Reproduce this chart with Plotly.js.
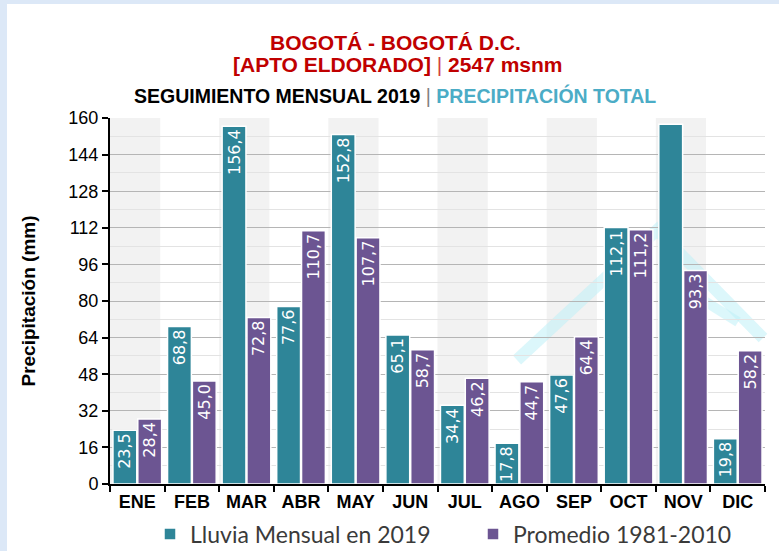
<!DOCTYPE html>
<html>
<head>
<meta charset="utf-8">
<script src="https://cdn.plot.ly/plotly-3.0.1.min.js"></script>
<style>
html,body{margin:0;padding:0;background:#ffffff;}
#chart{width:779px;height:551px;}
</style>
</head>
<body>
<div id="chart"></div>
<script>
// ---- data ----
const months = ['ENE','FEB','MAR','ABR','MAY','JUN','JUL','AGO','SEP','OCT','NOV','DIC'];
const lluvia2019 = [23.5, 68.8, 156.4, 77.6, 152.8, 65.1, 34.4, 17.8, 47.6, 112.1, 157.3, 19.8];
const promedio = [28.4, 45.0, 72.8, 110.7, 107.7, 58.7, 46.2, 44.7, 64.4, 111.2, 93.3, 58.2];
const lluviaShowLabel = [true,true,true,true,true,true,true,true,true,true,false,true];
const yTicks = [0,16,32,48,64,80,96,112,128,144,160];

const fmt = v => v.toFixed(1).replace('.', ',');
const lluviaText = lluvia2019.map((v,i) => lluviaShowLabel[i] ? fmt(v) : '');
const promText = promedio.map(v => fmt(v));

// plot area in pixels (for decorative shapes)
const W = 779, H = 551;
const L = 110, R = 765, T = 118, B = 484;
const px = x => (x - L) / (R - L);
const py = y => (B - y) / (B - T);
const cx = x => x / W;
const cy = y => (H - y) / H;

const sans = 'Liberation Sans, Arial, sans-serif';

const traces = [
  {
    type: 'bar', name: 'Lluvia Mensual en 2019', x: months, y: lluvia2019, legend: 'legend',
    text: lluviaText, textposition: 'inside', insidetextanchor: 'end', textangle: -90,
    constraintext: 'none',
    textfont: {family: 'DejaVu Sans, sans-serif', size: 16, color: '#ffffff'},
    marker: {color: '#2e8598', line: {color: '#ffffff', width: 1.5}},
    hoverinfo: 'x+y'
  },
  {
    type: 'bar', name: 'Promedio 1981-2010', x: months, y: promedio, legend: 'legend2',
    text: promText, textposition: 'inside', insidetextanchor: 'end', textangle: -90,
    constraintext: 'none',
    textfont: {family: 'DejaVu Sans, sans-serif', size: 16, color: '#ffffff'},
    marker: {color: '#6c5592', line: {color: '#ffffff', width: 1.5}},
    hoverinfo: 'x+y'
  }
];

const shapes = [];
// alternating light grey column bands
months.forEach((m, i) => {
  if (i % 2 === 0) {
    shapes.push({type: 'rect', xref: 'x', yref: 'paper', x0: i - 0.5, x1: i + 0.42, y0: 0, y1: 1,
      fillcolor: '#f2f2f2', line: {width: 0}, layer: 'below'});
  }
});
// faint watermark logo strokes
const wmColor = 'rgba(185,240,248,0.5)';
const wm = 'M' + px(517) + ',' + py(360) + ' L' + px(657) + ',' + py(230) + ' L' + px(763) + ',' + py(338);
shapes.push({type: 'path', xref: 'paper', yref: 'paper', path: wm,
  line: {color: wmColor, width: 12}, layer: 'below'});
const wm2 = 'M' + px(690) + ',' + py(292) + ' L' + px(738) + ',' + py(322);
shapes.push({type: 'path', xref: 'paper', yref: 'paper', path: wm2,
  line: {color: wmColor, width: 10}, layer: 'below'});
// light blue frame strips (left and top)
shapes.push({type: 'rect', xref: 'paper', yref: 'paper', x0: px(0), x1: px(7), y0: py(551), y1: py(0),
  fillcolor: '#dce8f7', line: {width: 0}, layer: 'above'});
shapes.push({type: 'rect', xref: 'paper', yref: 'paper', x0: px(0), x1: px(779), y0: py(4), y1: py(0),
  fillcolor: '#dce8f7', line: {width: 0}, layer: 'above'});

const annotations = [
  {xref: 'paper', yref: 'paper', x: px(395), y: py(42), xanchor: 'center', yanchor: 'middle', showarrow: false,
   text: '<b>BOGOTÁ - BOGOTÁ D.C.</b>', font: {family: sans, size: 21, color: '#c00000'}},
  {xref: 'paper', yref: 'paper', x: px(398), y: py(64), xanchor: 'center', yanchor: 'middle', showarrow: false,
   text: '<b>[APTO ELDORADO]</b> <span style="color:#d04040">|</span> <b>2547 msnm</b>', font: {family: sans, size: 21, color: '#c00000'}},
  {xref: 'paper', yref: 'paper', x: px(395), y: py(95), xanchor: 'center', yanchor: 'middle', showarrow: false,
   text: '<b>SEGUIMIENTO MENSUAL 2019</b> <span style="color:#7f7f7f">|</span> <b><span style="color:#4bacc6">PRECIPITACIÓN TOTAL</span></b>',
   font: {family: sans, size: 19.5, color: '#000000'}}
];

const legendFont = {family: 'Lato, DejaVu Sans, sans-serif', size: 23, color: '#3a3a3a'};
const layout = {
  width: W, height: H,
  margin: {l: L, r: W - R, t: T, b: H - B, pad: 0, autoexpand: false},
  paper_bgcolor: '#ffffff', plot_bgcolor: '#ffffff',
  separators: ',.',
  barmode: 'group', bargap: 0.09, bargroupgap: 0.04,
  uniformtext: {mode: 'show', minsize: 16},
  showlegend: true,
  legend: {orientation: 'h', xref: 'container', yref: 'container', x: cx(150), xanchor: 'left', y: cy(534), yanchor: 'middle',
    font: legendFont, itemwidth: 30, bgcolor: 'rgba(0,0,0,0)'},
  legend2: {orientation: 'h', xref: 'container', yref: 'container', x: cx(473), xanchor: 'left', y: cy(534), yanchor: 'middle',
    font: legendFont, itemwidth: 30, bgcolor: 'rgba(0,0,0,0)'},
  xaxis: {type: 'category', tickson: 'boundaries', ticks: 'outside', ticklen: 6, tickwidth: 1.5, tickcolor: '#000',
    showline: true, linecolor: '#000', linewidth: 2, showgrid: false, tickangle: 0, automargin: false,
    tickfont: {family: sans, size: 18, color: '#000'}, tickprefix: '<b>', ticksuffix: '</b>'},
  yaxis: {range: [0, 160], tickvals: yTicks, ticks: 'outside', ticklen: 6, tickwidth: 1.5, tickcolor: '#000',
    showline: true, linecolor: '#000', linewidth: 2, zeroline: false, automargin: false,
    showgrid: true, gridcolor: '#b5b5b5', gridwidth: 1,
    minor: {dtick: 8, tick0: 0, showgrid: true, gridcolor: '#e3e3e3', gridwidth: 1, ticks: ''},
    tickfont: {family: sans, size: 18, color: '#000'},
    title: {text: '<b>Precipitación (mm)</b>', font: {family: sans, size: 19, color: '#000'}, standoff: 28}},
  shapes: shapes,
  annotations: annotations
};

Plotly.newPlot('chart', traces, layout, {displayModeBar: false, responsive: false});
</script>
</body>
</html>
